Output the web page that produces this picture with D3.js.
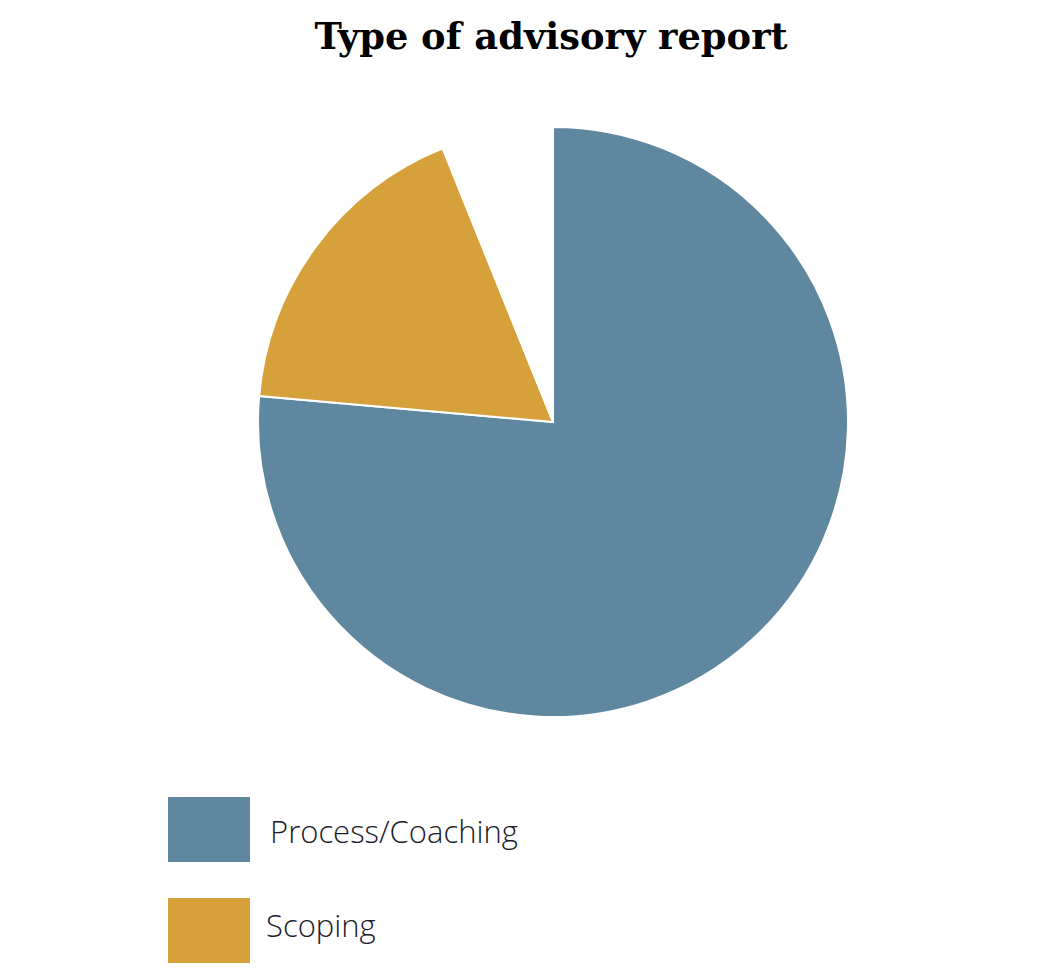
<!DOCTYPE html>
<html><head><meta charset="utf-8">
<script src="https://cdn.jsdelivr.net/npm/d3@7"></script>
<style>body{margin:0;background:#fff}</style>
</head><body>
<svg id="chart" width="1050" height="975"></svg>
<script>
const categories = ["Process/Coaching", "Scoping", "Other"];
const values = [76.4, 17.5, 6.1];
const colors = ["#5f88a0", "#d6a03b", "#ffffff"];
const legendCategories = ["Process/Coaching", "Scoping"];
const title = "Type of advisory report";

const svg = d3.select("#chart");
svg.append("text").attr("x", 551).attr("y", 49).attr("text-anchor", "middle")
  .attr("font-family", "DejaVu Serif").attr("font-weight", "bold").attr("font-size", 36.8)
  .attr("fill", "#000").text(title);

const data = categories.map((c, i) => ({cat: c, value: values[i], color: colors[i]}));
const pie = d3.pie().value(d => d.value).sort(null);
const arc = d3.arc().innerRadius(0).outerRadius(295);
const g = svg.append("g").attr("transform", "translate(553,422)");
g.selectAll("path").data(pie(data)).join("path")
  .attr("d", arc).attr("fill", d => d.data.color)
  .attr("stroke", "#fff").attr("stroke-width", 2);

const color = d3.scaleOrdinal().domain(categories).range(colors);
const lg = svg.append("g");
const items = lg.selectAll("g").data(legendCategories).join("g")
  .attr("transform", (d, i) => `translate(168,${797 + i * 101})`);
items.append("rect").attr("width", 82).attr("height", 65).attr("fill", d => color(d));
items.append("text").attr("x", (d, i) => i === 0 ? 102 : 98).attr("y", (d, i) => i === 0 ? 45.5 : 39)
  .attr("font-family", "Open Sans").attr("font-weight", 300).attr("font-size", 31)
  .attr("fill", "#1c1c2a").text(d => d);
</script>
</body></html>
